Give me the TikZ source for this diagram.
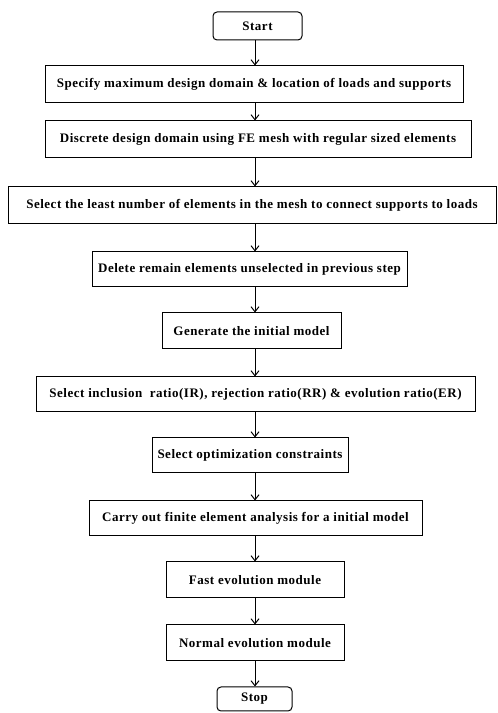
\documentclass[tikz,border=0pt]{standalone}
\usepackage{fontspec}
\setmainfont{Liberation Serif}[LetterSpace=4]
\usetikzlibrary{arrows.meta}
\begin{document}
\begin{tikzpicture}[x=1pt,y=1pt,
  box/.style={draw, line width=1pt, inner sep=0pt, align=center,
    font=\fontsize{13}{15}\selectfont\bfseries},
  term/.style={box, rounded corners=4pt},
  arr/.style={line width=1pt, -{Straight Barb[length=5pt,width=8pt,line width=1pt]}}]
\useasboundingbox (0,0) rectangle (498,713);
\coordinate (axis) at (255,0);
\node[term, minimum width=89pt,  minimum height=28pt] (start) at (257.5,687)   {Start};
\node[box,  minimum width=418pt, minimum height=37pt] (spec)  at (254,628.5)   {Specify maximum design domain \& location of loads and supports};
\node[box,  minimum width=426pt, minimum height=37pt] (disc)  at (258,573.5)   {Discrete design domain using FE mesh with regular sized elements};
\node[box,  minimum width=488pt, minimum height=37pt] (sel)   at (252,507.5)   {Select the least number of elements in the mesh to connect supports to loads};
\node[box,  minimum width=315pt, minimum height=35pt] (del)   at (249.5,443.5) {Delete remain elements unselected in previous step};
\node[box,  minimum width=179pt, minimum height=36pt] (gen)   at (251.5,382)   {Generate the initial model};
\node[box,  minimum width=439pt, minimum height=35pt] (ratio) at (255.5,318.5) {Select inclusion\ \ ratio(IR), rejection ratio(RR) \& evolution ratio(ER)};
\node[box,  minimum width=196pt, minimum height=35pt] (cons)  at (250,257.5)   {Select optimization constraints};
\node[box,  minimum width=333pt, minimum height=35pt] (fea)   at (255.5,194.5) {Carry out finite element analysis for a initial model};
\node[box,  minimum width=178pt, minimum height=36pt] (fast)  at (255,133)     {Fast evolution module};
\node[box,  minimum width=178pt, minimum height=36pt] (norm)  at (255,70)      {Normal evolution module};
\node[term, minimum width=75pt,  minimum height=24pt] (stop)  at (254.5,14)    {Stop};
\foreach \a/\b in {start/spec, spec/disc, disc/sel, sel/del, del/gen, gen/ratio, ratio/cons, cons/fea, fea/fast, fast/norm, norm/stop}
  \draw[arr] (\a.south -| axis) -- (\b.north -| axis);
\end{tikzpicture}
\end{document}
